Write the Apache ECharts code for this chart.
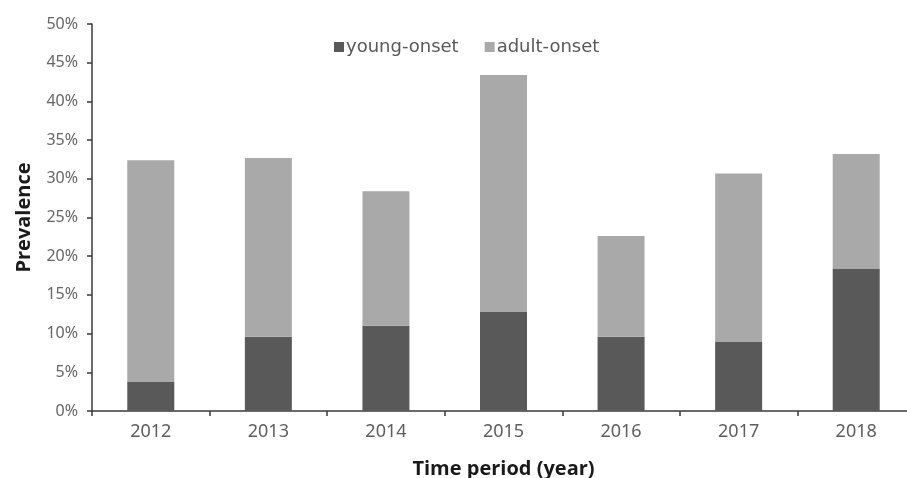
<!DOCTYPE html>
<html>
<head>
<meta charset="utf-8">
<script src="https://cdn.jsdelivr.net/npm/echarts@6/dist/echarts.min.js"></script>
<style>
html,body{margin:0;padding:0;background:#fff;}
#chart{width:907px;height:478px;}
</style>
</head>
<body>
<div id="chart"></div>
<script>
const years = ['2012','2013','2014','2015','2016','2017','2018'];
const youngOnset = [3.8, 9.6, 11.0, 12.8, 9.6, 8.9, 18.4];
const adultOnset = [28.6, 23.1, 17.4, 30.6, 13.0, 21.8, 14.8];
const yTicks = [0,5,10,15,20,25,30,35,40,45,50];

const chart = echarts.init(document.getElementById('chart'));
chart.setOption({
  animation: false,
  backgroundColor: '#fff',
  textStyle: { fontFamily: 'Noto Sans' },
  legend: {
    top: 33,
    left: 329,
    itemWidth: 10,
    itemHeight: 10,
    itemGap: 26,
    icon: 'rect',
    textStyle: { color: '#595959', fontSize: 18, fontFamily: 'DejaVu Sans', padding: [0,0,0,-3] },
    data: ['young-onset','adult-onset']
  },
  grid: { left: 92, width: 823, top: 24, height: 387, containLabel: false, outerBoundsMode: 'none' },
  xAxis: {
    type: 'category',
    data: years,
    name: 'Time period (year)',
    nameLocation: 'middle',
    nameGap: 48,
    nameTextStyle: { fontSize: 20, fontWeight: 'bold', color: '#1a1a1a', fontFamily: 'Open Sans' },
    axisLine: { lineStyle: { color: '#3a3a3a', width: 1.5 } },
    axisTick: { show: true, length: 5, inside: false, lineStyle: { color: '#3a3a3a', width: 1.5 } },
    axisLabel: { color: '#5e5e5e', fontSize: 18, margin: 12 }
  },
  yAxis: {
    type: 'value',
    min: 0, max: 50, interval: 5,
    name: 'Prevalence',
    nameLocation: 'middle',
    nameGap: 58,
    nameTextStyle: { fontSize: 20, fontWeight: 'bold', color: '#1a1a1a', fontFamily: 'Open Sans' },
    axisLine: { show: true, lineStyle: { color: '#3a3a3a', width: 1.5 } },
    axisTick: { show: true, length: 5, lineStyle: { color: '#3a3a3a', width: 1.5 } },
    splitLine: { show: false },
    axisLabel: { color: '#666', fontSize: 16, margin: 14, formatter: v => yTicks.includes(v) ? v + '%' : '' }
  },
  series: [
    { name: 'young-onset', type: 'bar', stack: 'total', barWidth: 47, data: youngOnset,
      itemStyle: { color: '#595959' } },
    { name: 'adult-onset', type: 'bar', stack: 'total', barWidth: 47, data: adultOnset,
      itemStyle: { color: '#a9a9a9' } }
  ]
});
</script>
</body>
</html>
